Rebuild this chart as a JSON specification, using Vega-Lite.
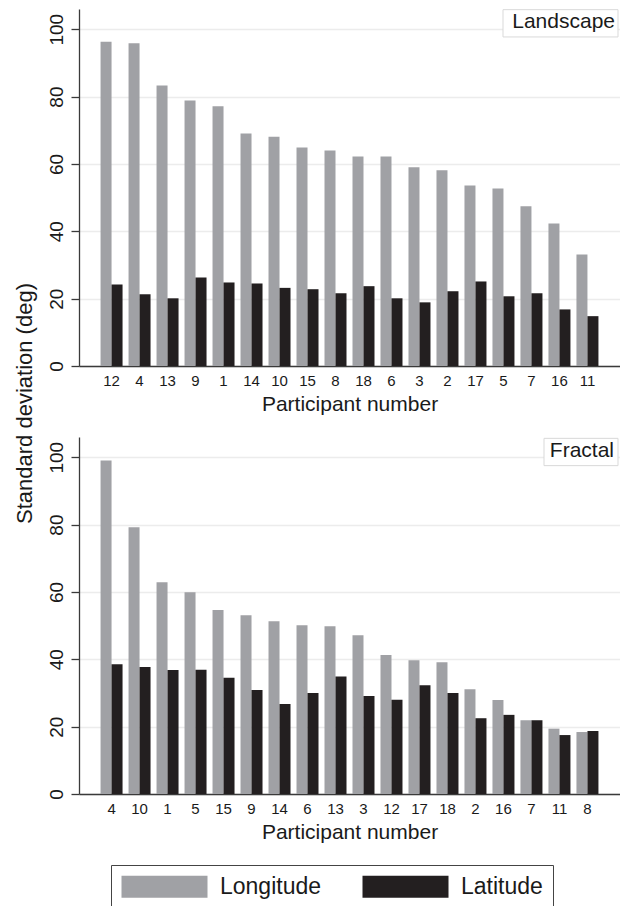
{
  "$schema": "https://vega.github.io/schema/vega-lite/v6.json",
  "padding": {"left": 13, "top": 9, "right": 0, "bottom": 0},
  "background": "white",
  "bounds": "flush",
  "spacing": 71,
  "config": {
    "font": "Liberation Sans",
    "view": {"stroke": null},
    "axis": {
      "domainColor": "#3a3a3a",
      "domainWidth": 1.3,
      "tickColor": "#3a3a3a",
      "tickWidth": 1.3,
      "labelColor": "#1a1a1a",
      "titleColor": "#1a1a1a",
      "titleFontWeight": "normal",
      "gridColor": "#ececec",
      "gridWidth": 1.5
    }
  },
  "datasets": {
    "sd": [
      {"panel": "Landscape", "participant": "12", "measure": "Longitude", "sd": 96.3},
      {"panel": "Landscape", "participant": "12", "measure": "Latitude", "sd": 24.2},
      {"panel": "Landscape", "participant": "4", "measure": "Longitude", "sd": 95.8},
      {"panel": "Landscape", "participant": "4", "measure": "Latitude", "sd": 21.3},
      {"panel": "Landscape", "participant": "13", "measure": "Longitude", "sd": 83.3},
      {"panel": "Landscape", "participant": "13", "measure": "Latitude", "sd": 20.1},
      {"panel": "Landscape", "participant": "9", "measure": "Longitude", "sd": 78.8},
      {"panel": "Landscape", "participant": "9", "measure": "Latitude", "sd": 26.3},
      {"panel": "Landscape", "participant": "1", "measure": "Longitude", "sd": 77.1},
      {"panel": "Landscape", "participant": "1", "measure": "Latitude", "sd": 24.8},
      {"panel": "Landscape", "participant": "14", "measure": "Longitude", "sd": 69.0},
      {"panel": "Landscape", "participant": "14", "measure": "Latitude", "sd": 24.5},
      {"panel": "Landscape", "participant": "10", "measure": "Longitude", "sd": 68.1},
      {"panel": "Landscape", "participant": "10", "measure": "Latitude", "sd": 23.2},
      {"panel": "Landscape", "participant": "15", "measure": "Longitude", "sd": 64.9},
      {"panel": "Landscape", "participant": "15", "measure": "Latitude", "sd": 22.8},
      {"panel": "Landscape", "participant": "8", "measure": "Longitude", "sd": 64.0},
      {"panel": "Landscape", "participant": "8", "measure": "Latitude", "sd": 21.6},
      {"panel": "Landscape", "participant": "18", "measure": "Longitude", "sd": 62.2},
      {"panel": "Landscape", "participant": "18", "measure": "Latitude", "sd": 23.7},
      {"panel": "Landscape", "participant": "6", "measure": "Longitude", "sd": 62.2},
      {"panel": "Landscape", "participant": "6", "measure": "Latitude", "sd": 20.1},
      {"panel": "Landscape", "participant": "3", "measure": "Longitude", "sd": 59.0},
      {"panel": "Landscape", "participant": "3", "measure": "Latitude", "sd": 18.9},
      {"panel": "Landscape", "participant": "2", "measure": "Longitude", "sd": 58.1},
      {"panel": "Landscape", "participant": "2", "measure": "Latitude", "sd": 22.2},
      {"panel": "Landscape", "participant": "17", "measure": "Longitude", "sd": 53.6},
      {"panel": "Landscape", "participant": "17", "measure": "Latitude", "sd": 25.1},
      {"panel": "Landscape", "participant": "5", "measure": "Longitude", "sd": 52.7},
      {"panel": "Landscape", "participant": "5", "measure": "Latitude", "sd": 20.7},
      {"panel": "Landscape", "participant": "7", "measure": "Longitude", "sd": 47.4},
      {"panel": "Landscape", "participant": "7", "measure": "Latitude", "sd": 21.6},
      {"panel": "Landscape", "participant": "16", "measure": "Longitude", "sd": 42.3},
      {"panel": "Landscape", "participant": "16", "measure": "Latitude", "sd": 16.8},
      {"panel": "Landscape", "participant": "11", "measure": "Longitude", "sd": 33.1},
      {"panel": "Landscape", "participant": "11", "measure": "Latitude", "sd": 14.8},
      {"panel": "Fractal", "participant": "4", "measure": "Longitude", "sd": 99.0},
      {"panel": "Fractal", "participant": "4", "measure": "Latitude", "sd": 38.5},
      {"panel": "Fractal", "participant": "10", "measure": "Longitude", "sd": 79.2},
      {"panel": "Fractal", "participant": "10", "measure": "Latitude", "sd": 37.7},
      {"panel": "Fractal", "participant": "1", "measure": "Longitude", "sd": 62.9},
      {"panel": "Fractal", "participant": "1", "measure": "Latitude", "sd": 36.8},
      {"panel": "Fractal", "participant": "5", "measure": "Longitude", "sd": 59.9},
      {"panel": "Fractal", "participant": "5", "measure": "Latitude", "sd": 36.9},
      {"panel": "Fractal", "participant": "15", "measure": "Longitude", "sd": 54.6},
      {"panel": "Fractal", "participant": "15", "measure": "Latitude", "sd": 34.5},
      {"panel": "Fractal", "participant": "9", "measure": "Longitude", "sd": 53.1},
      {"panel": "Fractal", "participant": "9", "measure": "Latitude", "sd": 30.9},
      {"panel": "Fractal", "participant": "14", "measure": "Longitude", "sd": 51.3},
      {"panel": "Fractal", "participant": "14", "measure": "Latitude", "sd": 26.7},
      {"panel": "Fractal", "participant": "6", "measure": "Longitude", "sd": 50.1},
      {"panel": "Fractal", "participant": "6", "measure": "Latitude", "sd": 30.0},
      {"panel": "Fractal", "participant": "13", "measure": "Longitude", "sd": 49.8},
      {"panel": "Fractal", "participant": "13", "measure": "Latitude", "sd": 34.9},
      {"panel": "Fractal", "participant": "3", "measure": "Longitude", "sd": 47.1},
      {"panel": "Fractal", "participant": "3", "measure": "Latitude", "sd": 29.1},
      {"panel": "Fractal", "participant": "12", "measure": "Longitude", "sd": 41.3},
      {"panel": "Fractal", "participant": "12", "measure": "Latitude", "sd": 28.0},
      {"panel": "Fractal", "participant": "17", "measure": "Longitude", "sd": 39.7},
      {"panel": "Fractal", "participant": "17", "measure": "Latitude", "sd": 32.3},
      {"panel": "Fractal", "participant": "18", "measure": "Longitude", "sd": 39.1},
      {"panel": "Fractal", "participant": "18", "measure": "Latitude", "sd": 30.0},
      {"panel": "Fractal", "participant": "2", "measure": "Longitude", "sd": 31.1},
      {"panel": "Fractal", "participant": "2", "measure": "Latitude", "sd": 22.5},
      {"panel": "Fractal", "participant": "16", "measure": "Longitude", "sd": 27.9},
      {"panel": "Fractal", "participant": "16", "measure": "Latitude", "sd": 23.5},
      {"panel": "Fractal", "participant": "7", "measure": "Longitude", "sd": 21.9},
      {"panel": "Fractal", "participant": "7", "measure": "Latitude", "sd": 21.9},
      {"panel": "Fractal", "participant": "11", "measure": "Longitude", "sd": 19.4},
      {"panel": "Fractal", "participant": "11", "measure": "Latitude", "sd": 17.5},
      {"panel": "Fractal", "participant": "8", "measure": "Longitude", "sd": 18.4},
      {"panel": "Fractal", "participant": "8", "measure": "Latitude", "sd": 18.7}
    ],
    "panels": [
      {"panel": "Landscape"},
      {"panel": "Fractal"}
    ]
  },
  "vconcat": [
    {
      "width": 541,
      "height": 357,
      "layer": [
        {
          "data": {"name": "sd"},
          "transform": [{"filter": "datum.panel === 'Landscape'"}],
          "mark": {"type": "bar"},
          "encoding": {
            "x": {
              "field": "participant", "type": "nominal",
              "sort": ["12", "4", "13", "9", "1", "14", "10", "15", "8", "18", "6", "3", "2", "17", "5", "7", "16", "11"],
              "scale": {"paddingInner": 0.2143, "paddingOuter": 0.77},
              "axis": {"title": "Participant number", "labelAngle": 0, "labelFontSize": 15, "titleFontSize": 21, "ticks": false, "labelPadding": 7, "titlePadding": 5}
            },
            "xOffset": {"field": "measure", "sort": ["Longitude", "Latitude"]},
            "y": {
              "field": "sd", "type": "quantitative",
              "scale": {"domain": [0, 106], "nice": false},
              "axis": {
                "values": [0, 20, 40, 60, 80, 100], "grid": true, "tickSize": 8,
                "labelAngle": 270, "labelFontSize": 19, "labelPadding": 5,
                "title": "Standard deviation (deg)", "titleFontSize": 22,
                "titleAngle": 270, "titleAlign": "center", "titleBaseline": "alphabetic",
                "titleX": -48, "titleY": 394
              }
            },
            "color": {
              "field": "measure", "type": "nominal",
              "scale": {"domain": ["Longitude", "Latitude"], "range": ["#a0a1a5", "#231f20"]},
              "legend": {
                "title": null, "orient": "none", "direction": "horizontal", "columns": 2,
                "legendX": 32, "legendY": 856,
                "symbolType": "M-1,-1H6.8182V1H-1Z", "symbolSize": 484,
                "symbolStrokeWidth": 0, "symbolOpacity": 1,
                "labelOffset": 76, "labelFontSize": 23, "labelColor": "#1a1a1a",
                "columnPadding": 40, "padding": 10,
                "strokeColor": "#444444"
              }
            }
          }
        },
        {
          "data": {"name": "panels"},
          "transform": [{"filter": "datum.panel === 'Landscape'"}],
          "mark": {"type": "rect", "fill": "white", "stroke": "#d9d9d9", "strokeWidth": 1},
          "encoding": {
            "x": {"value": {"expr": "width - 117"}},
            "x2": {"value": {"expr": "width - 2"}},
            "y": {"datum": 105.8},
            "y2": {"datum": 97.7}
          }
        },
        {
          "data": {"name": "panels"},
          "transform": [{"filter": "datum.panel === 'Landscape'"}],
          "mark": {"type": "text", "align": "right", "baseline": "alphabetic", "fontSize": 21, "color": "#1a1a1a", "dx": -5},
          "encoding": {
            "x": {"value": "width"},
            "y": {"datum": 100.4},
            "text": {"field": "panel"}
          }
        }
      ]
    },
    {
      "width": 541,
      "height": 357,
      "layer": [
        {
          "data": {"name": "sd"},
          "transform": [{"filter": "datum.panel === 'Fractal'"}],
          "mark": {"type": "bar"},
          "encoding": {
            "x": {
              "field": "participant", "type": "nominal",
              "sort": ["4", "10", "1", "5", "15", "9", "14", "6", "13", "3", "12", "17", "18", "2", "16", "7", "11", "8"],
              "scale": {"paddingInner": 0.2143, "paddingOuter": 0.77},
              "axis": {"title": "Participant number", "labelAngle": 0, "labelFontSize": 15, "titleFontSize": 21, "ticks": false, "labelPadding": 7, "titlePadding": 5}
            },
            "xOffset": {"field": "measure", "sort": ["Longitude", "Latitude"]},
            "y": {
              "field": "sd", "type": "quantitative",
              "scale": {"domain": [0, 106], "nice": false},
              "axis": {
                "values": [0, 20, 40, 60, 80, 100], "grid": true, "tickSize": 8,
                "labelAngle": 270, "labelFontSize": 19, "labelPadding": 5,
                "title": null
              }
            },
            "color": {
              "field": "measure", "type": "nominal",
              "scale": {"domain": ["Longitude", "Latitude"], "range": ["#a0a1a5", "#231f20"]}
            }
          }
        },
        {
          "data": {"name": "panels"},
          "transform": [{"filter": "datum.panel === 'Fractal'"}],
          "mark": {"type": "rect", "fill": "white", "stroke": "#d9d9d9", "strokeWidth": 1},
          "encoding": {
            "x": {"value": {"expr": "width - 76"}},
            "x2": {"value": {"expr": "width - 2"}},
            "y": {"datum": 105.6},
            "y2": {"datum": 97.5}
          }
        },
        {
          "data": {"name": "panels"},
          "transform": [{"filter": "datum.panel === 'Fractal'"}],
          "mark": {"type": "text", "align": "right", "baseline": "alphabetic", "fontSize": 21, "color": "#1a1a1a", "dx": -6},
          "encoding": {
            "x": {"value": "width"},
            "y": {"datum": 100.2},
            "text": {"field": "panel"}
          }
        }
      ]
    }
  ]
}
